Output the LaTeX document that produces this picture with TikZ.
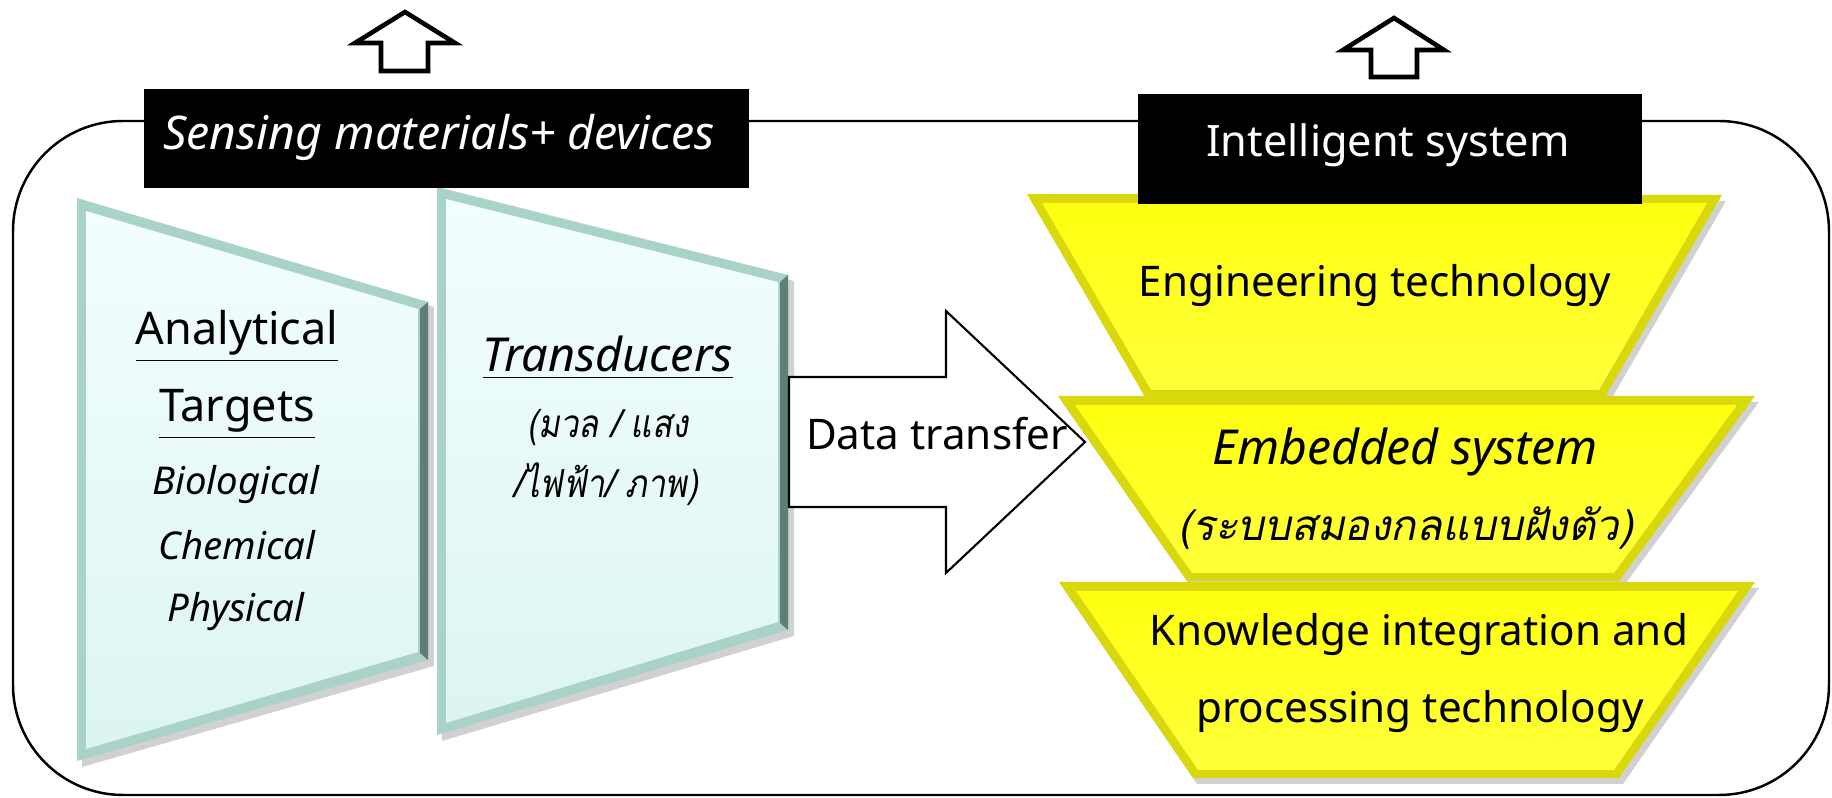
\documentclass[tikz,border=0pt]{standalone}
\usepackage{fontspec}
\setmainfont{Noto Sans}
\newfontfamily\thaifont[Script=Thai]{Loma}
\newfontfamily\thaiitfont[Script=Thai,FakeSlant=0.2]{Loma}
\definecolor{panelbevel}{HTML}{A9D2C8}
\definecolor{panelhi}{HTML}{F3FEFE}
\definecolor{panello}{HTML}{DCF5F1}
\definecolor{paneldark}{HTML}{5E7E77}
\definecolor{ybevel}{HTML}{D8D80C}
\definecolor{yhi}{HTML}{FFFF10}
\definecolor{ylo}{HTML}{FFFF3A}
\tikzset{
  blackbox/.style={fill=black, draw=none, inner sep=0pt, anchor=north west},
  lbl/.style={anchor=base, inner sep=0pt, font=\fontsize{12}{14}\selectfont},
  wlbl/.style={lbl, text=white},
  uparrow/.style={draw=black, fill=white, line width=1.3pt, line join=miter},
  blockarrow/.style={draw=black, fill=white, line width=0.6pt},
  frame/.style={draw=black, line width=0.7pt, rounded corners=1.1cm},
  shadowfill/.style={fill=black, opacity=0.18},
}
\begin{document}
\begin{tikzpicture}[x=0.01cm, y=-0.01cm]
\useasboundingbox (0,0) rectangle (1832,798);

% outer frame
\draw[frame] (13,121) rectangle (1829,795);

% up arrows
\draw[uparrow] (405,12) -- (455,43) -- (428,43) -- (428,71) -- (381,71) -- (381,43) -- (355,43) -- cycle;
\draw[uparrow] (1394,18) -- (1444,50) -- (1417,50) -- (1417,77) -- (1371,77) -- (1371,50) -- (1343,50) -- cycle;

% panel 1
\fill[shadowfill] (82,204) -- (434,307) -- (434,666) -- (82,767) -- cycle;
\fill[panelbevel] (77,198) -- (428,302) -- (428,660) -- (77,761) -- cycle;
\shade[top color=panelhi, bottom color=panello] (86,211) -- (418,309) -- (418,652) -- (86,749) -- cycle;
\fill[paneldark] (428,302) -- (428,660) -- (420,653) -- (420,309) -- cycle;

% panel 2
\fill[shadowfill] (442,193) -- (794,281) -- (794,636) -- (442,741) -- cycle;
\fill[panelbevel] (437,187) -- (788,275) -- (788,630) -- (437,735) -- cycle;
\shade[top color=panelhi, bottom color=panello] (446,199) -- (778,282) -- (778,622) -- (446,723) -- cycle;
\fill[paneldark] (788,275) -- (788,630) -- (780,623) -- (780,282) -- cycle;

% yellow trapezoids
\fill[shadowfill] (1031,200) -- (1726,201) -- (1609,403) -- (1149,403) -- cycle;
\fill[ybevel] (1027,194) -- (1722,195) -- (1605,397) -- (1145,397) -- cycle;
\shade[top color=yhi, bottom color=ylo] (1042,203) -- (1707,203) -- (1599,390) -- (1151,390) -- cycle;

\fill[shadowfill] (1062,402) -- (1759,402) -- (1623,587) -- (1191,587) -- cycle;
\fill[ybevel] (1058,396) -- (1755,396) -- (1619,581) -- (1187,581) -- cycle;
\shade[top color=yhi, bottom color=ylo] (1075,405) -- (1737,405) -- (1614,573) -- (1192,573) -- cycle;

\fill[shadowfill] (1063,588) -- (1759,588) -- (1623,784) -- (1197,784) -- cycle;
\fill[ybevel] (1059,582) -- (1755,582) -- (1619,778) -- (1193,778) -- cycle;
\shade[top color=yhi, bottom color=ylo] (1076,591) -- (1738,591) -- (1614,770) -- (1198,770) -- cycle;

% black header boxes
\node[blackbox, minimum width=6.05cm, minimum height=0.99cm] (box1) at (143,88) {};
\node[blackbox, minimum width=5.04cm, minimum height=1.10cm] (box2) at (1137,93) {};

% data transfer arrow
\draw[blockarrow] (789,377) -- (946,377) -- (946,311) -- (1085,442) -- (946,573) -- (946,507) -- (789,507) -- cycle;

% texts
\node[wlbl, font=\fontsize{13.2}{15}\selectfont\itshape] (t-sensing) at (439,150) {Sensing materials+ devices};
\node[wlbl, font=\fontsize{12.3}{14}\selectfont] (t-intel) at (1388,157) {Intelligent system};

\node[lbl, font=\fontsize{12.8}{15}\selectfont] (t-analytical) at (237,345) {\underline{Analytical}};
\node[lbl, font=\fontsize{12.8}{15}\selectfont] (t-targets) at (237,422) {\underline{Targets}};
\node[lbl, font=\fontsize{10.9}{13}\selectfont\itshape] (t-bio) at (236,495) {Biological};
\node[lbl, font=\fontsize{10.9}{13}\selectfont\itshape] (t-chem) at (237,560) {Chemical};
\node[lbl, font=\fontsize{10.9}{13}\selectfont\itshape] (t-phys) at (236,622) {Physical};

\node[lbl, font=\fontsize{13.3}{15}\selectfont\itshape] (t-trans) at (608,372) {\underline{Transducers}};
\node[lbl, font=\fontsize{11}{13}\selectfont] (t-th1) at (608,438) {\scalebox{0.85}[1]{\thaiitfont (มวล / แสง}};
\node[lbl, font=\fontsize{11}{13}\selectfont] (t-th2) at (606,498) {\scalebox{0.85}[1]{\thaiitfont /ไฟฟ้า/ ภาพ)}};

\node[lbl] (t-data) at (937,450) {Data transfer};

\node[lbl] (t-eng) at (1375,297) {Engineering technology};
\node[lbl, font=\fontsize{13.7}{16}\selectfont\itshape] (t-emb) at (1405,465) {Embedded system};
\node[lbl] (t-emb2) at (1406,541) {\thaiitfont (ระบบสมองกลแบบฝังตัว)};
\node[lbl] (t-know) at (1419,646) {Knowledge integration and};
\node[lbl] (t-proc) at (1420,723) {processing technology};
\end{tikzpicture}
\end{document}
